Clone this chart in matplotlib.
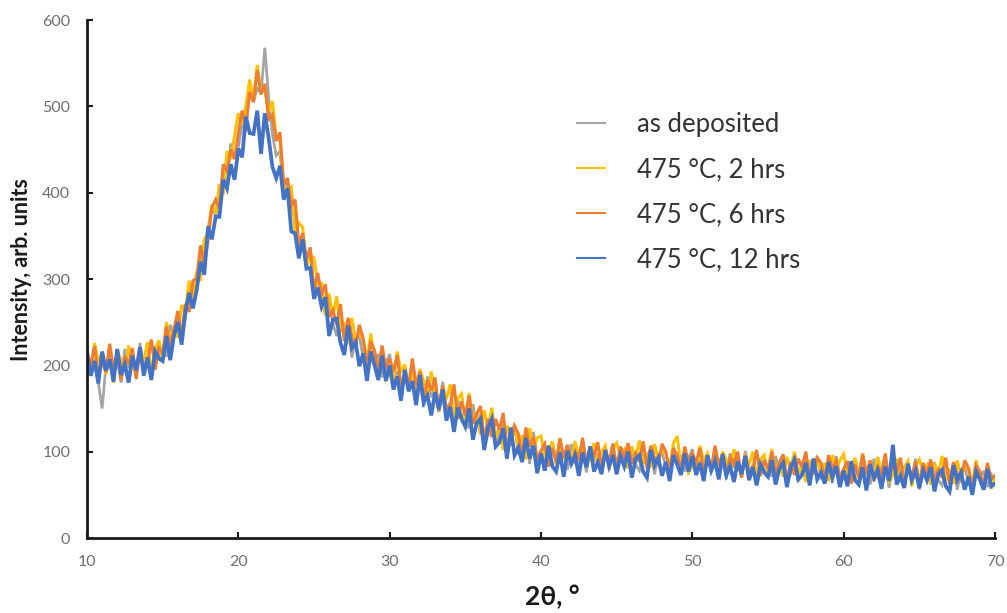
import numpy as np
import matplotlib
matplotlib.use("Agg")
import matplotlib.pyplot as plt

# 2theta grid: 10 to 70 deg in 0.25 deg steps (241 points)
two_theta = np.round(np.arange(241) * 0.25 + 10.0, 2)

as_deposited = [
    223, 189, 207, 180, 150, 199, 214, 188, 206, 180, 219, 197, 212, 187, 226, 197, 210, 190, 222, 207,
    220, 210, 247, 232, 256, 234, 255, 289, 267, 303, 327, 310, 358, 385, 372, 394, 426, 406, 457, 440,
    453, 479, 474, 519, 505, 521, 515, 568, 511, 468, 443, 448, 394, 413, 378, 373, 333, 352, 320, 337,
    277, 304, 281, 258, 281, 248, 234, 252, 235, 250, 209, 231, 234, 208, 195, 230, 205, 213, 186, 202,
    213, 177, 193, 164, 193, 179, 193, 165, 180, 152, 187, 163, 174, 146, 181, 149, 157, 134, 161, 141,
    145, 127, 155, 130, 143, 111, 119, 141, 104, 124, 130, 93, 120, 130, 99, 104, 120, 86, 123, 91,
    89, 98, 83, 110, 91, 101, 97, 79, 109, 87, 82, 102, 76, 106, 90, 98, 77, 102, 87, 110,
    74, 104, 93, 81, 106, 85, 78, 97, 88, 104, 74, 94, 99, 82, 75, 106, 87, 96, 77, 92,
    103, 76, 90, 68, 93, 83, 96, 75, 89, 68, 98, 81, 91, 70, 101, 77, 84, 68, 92, 77,
    84, 71, 95, 77, 90, 65, 74, 93, 66, 82, 89, 61, 85, 94, 70, 76, 90, 64, 95, 71,
    69, 79, 64, 92, 74, 84, 80, 62, 92, 70, 65, 85, 58, 88, 73, 81, 60, 85, 69, 92,
    56, 86, 76, 63, 88, 67, 61, 79, 70, 86, 56, 76, 81, 64, 57, 87, 69, 78, 59, 74,
    68,
]

hrs_2 = [
    197, 188, 226, 204, 214, 190, 208, 180, 218, 205, 192, 223, 198, 191, 216, 205, 227, 191, 219, 229,
    207, 250, 227, 245, 232, 270, 262, 298, 276, 309, 298, 346, 354, 386, 376, 410, 398, 448, 439, 466,
    492, 479, 501, 531, 507, 548, 516, 520, 493, 506, 465, 460, 407, 400, 406, 356, 365, 360, 313, 329,
    324, 295, 295, 259, 283, 257, 280, 240, 247, 225, 255, 229, 238, 230, 204, 237, 207, 197, 219, 184,
    191, 180, 216, 192, 201, 174, 191, 161, 196, 181, 164, 193, 164, 154, 175, 161, 178, 139, 162, 167,
    133, 168, 136, 144, 120, 148, 127, 151, 114, 131, 102, 130, 117, 131, 103, 119, 91, 127, 104, 116,
    118, 94, 99, 112, 85, 116, 91, 100, 88, 112, 94, 107, 83, 92, 110, 83, 100, 107, 79, 103,
    110, 95, 102, 81, 106, 91, 113, 86, 96, 82, 109, 91, 101, 98, 80, 110, 118, 82, 102, 76,
    84, 77, 107, 89, 98, 78, 93, 71, 100, 90, 78, 103, 81, 75, 94, 85, 100, 70, 91, 96,
    73, 103, 79, 87, 71, 94, 79, 100, 73, 87, 65, 90, 81, 94, 72, 87, 66, 96, 79, 90,
    97, 74, 79, 93, 67, 98, 73, 82, 70, 94, 76, 89, 64, 73, 92, 65, 82, 89, 60, 84,
    91, 76, 84, 62, 87, 72, 95, 67, 77, 63, 90, 72, 82, 79, 61, 90, 68, 63, 83, 57,
    70,
]

hrs_6 = [
    214, 201, 222, 188, 204, 192, 225, 196, 215, 183, 211, 201, 220, 184, 217, 193, 202, 230, 195, 220,
    214, 245, 221, 242, 263, 233, 271, 262, 298, 301, 339, 317, 345, 383, 392, 382, 433, 425, 450, 439,
    469, 495, 478, 516, 505, 542, 514, 526, 485, 490, 460, 470, 409, 417, 385, 392, 340, 353, 323, 336,
    288, 307, 281, 294, 256, 264, 247, 271, 228, 255, 233, 222, 247, 231, 198, 228, 217, 192, 223, 196,
    208, 193, 212, 176, 191, 176, 208, 177, 193, 159, 183, 171, 186, 147, 176, 149, 153, 178, 138, 158,
    142, 165, 132, 143, 153, 113, 138, 117, 138, 125, 145, 103, 110, 130, 121, 93, 128, 106, 117, 91,
    101, 109, 83, 104, 88, 115, 93, 108, 84, 100, 92, 116, 85, 106, 94, 111, 81, 102, 87, 108,
    82, 106, 92, 110, 86, 98, 88, 112, 81, 107, 93, 86, 109, 100, 76, 104, 96, 79, 106, 87,
    98, 88, 104, 77, 91, 80, 107, 84, 98, 73, 94, 86, 100, 70, 96, 76, 80, 102, 72, 90,
    80, 100, 75, 87, 97, 66, 88, 73, 92, 82, 100, 69, 76, 93, 87, 66, 96, 80, 89, 70,
    80, 89, 63, 85, 70, 97, 75, 90, 66, 82, 74, 98, 66, 87, 76, 93, 63, 84, 68, 89,
    63, 87, 74, 91, 67, 79, 70, 93, 62, 88, 74, 67, 90, 81, 57, 84, 77, 60, 87, 68,
    72,
]

hrs_12 = [
    214, 188, 205, 179, 216, 194, 207, 181, 219, 189, 201, 180, 211, 194, 221, 188, 209, 183, 216, 208,
    205, 234, 206, 235, 250, 224, 262, 284, 266, 287, 320, 305, 361, 346, 372, 372, 415, 405, 433, 415,
    451, 441, 488, 469, 468, 495, 445, 492, 464, 430, 417, 431, 392, 405, 355, 353, 324, 346, 312, 313,
    277, 290, 268, 279, 234, 253, 254, 226, 212, 246, 220, 227, 199, 214, 182, 216, 200, 183, 211, 182,
    200, 172, 187, 159, 195, 170, 182, 154, 189, 157, 165, 142, 169, 149, 172, 136, 152, 123, 151, 138,
    129, 150, 114, 133, 138, 102, 128, 138, 106, 111, 127, 92, 128, 96, 105, 88, 116, 92, 107, 75,
    98, 78, 107, 83, 77, 99, 71, 101, 86, 96, 72, 99, 82, 106, 77, 88, 74, 102, 83, 96,
    74, 95, 83, 100, 70, 91, 96, 77, 70, 102, 84, 93, 72, 88, 66, 96, 85, 73, 98, 77,
    95, 73, 87, 66, 96, 78, 89, 68, 97, 73, 83, 65, 89, 74, 95, 67, 82, 61, 85, 76,
    71, 90, 62, 80, 87, 59, 82, 91, 68, 73, 87, 61, 92, 68, 76, 63, 88, 70, 83, 59,
    78, 60, 89, 67, 62, 82, 55, 85, 70, 79, 57, 83, 66, 108, 62, 72, 58, 86, 67, 78,
    58, 78, 67, 82, 54, 74, 79, 60, 54, 84, 67, 76, 56, 71, 50, 77, 68, 56, 80, 60,
    63,
]

series_labels = ["as deposited", "475 \u00b0C, 2 hrs", "475 \u00b0C, 6 hrs", "475 \u00b0C, 12 hrs"]
series_colors = ["#A5A5A5", "#FFC000", "#ED7D31", "#4472C4"]
series_widths = [2.0, 2.2, 2.2, 2.7]
x_ticks = [10, 20, 30, 40, 50, 60, 70]
y_ticks = [0, 100, 200, 300, 400, 500, 600]

plt.rcParams['font.family'] = ['Lato', 'DejaVu Sans']

fig = plt.figure(figsize=(10.07, 6.13), dpi=100)
ax = fig.add_axes([0.0864, 0.1223, 0.9017, 0.845])

for data, lab, col, lw in zip([as_deposited, hrs_2, hrs_6, hrs_12], series_labels,
                              series_colors, series_widths):
    ax.plot(two_theta, data, color=col, lw=lw, label=lab, solid_joinstyle='miter')

ax.set_xlim(10, 70)
ax.set_ylim(0, 600)
ax.set_xticks(x_ticks)
ax.set_yticks(y_ticks)
for s in ['top', 'right']:
    ax.spines[s].set_visible(False)
for s in ['left', 'bottom']:
    ax.spines[s].set_linewidth(2)
    ax.spines[s].set_color('#1a1a1a')
ax.tick_params(direction='in', length=4, width=1.5, colors='#1a1a1a',
               labelcolor='#6f6f6f', labelsize=11.5, pad=12)

ax.set_ylabel("Intensity, arb. units", fontsize=15.5, fontweight='bold', color='#1a1a1a')
ax.yaxis.set_label_coords(-0.061, 0.519)
ax.set_xlabel("2\u03b8, \u00b0", fontsize=19, fontweight='bold', color='#1a1a1a')
ax.xaxis.set_label_coords(0.512, -0.091)

leg = ax.legend(loc='upper left', bbox_to_anchor=(577 / 1007, 1 - 112 / 613),
                bbox_transform=fig.transFigure, frameon=False, fontsize=18.5,
                handlelength=1.1, handletextpad=1.22, labelspacing=0.78,
                borderpad=0, borderaxespad=0)
for t in leg.get_texts():
    t.set_color('#333333')
for h in leg.get_lines():
    h.set_linewidth(1.5)

fig.savefig("out.png", dpi=100)
